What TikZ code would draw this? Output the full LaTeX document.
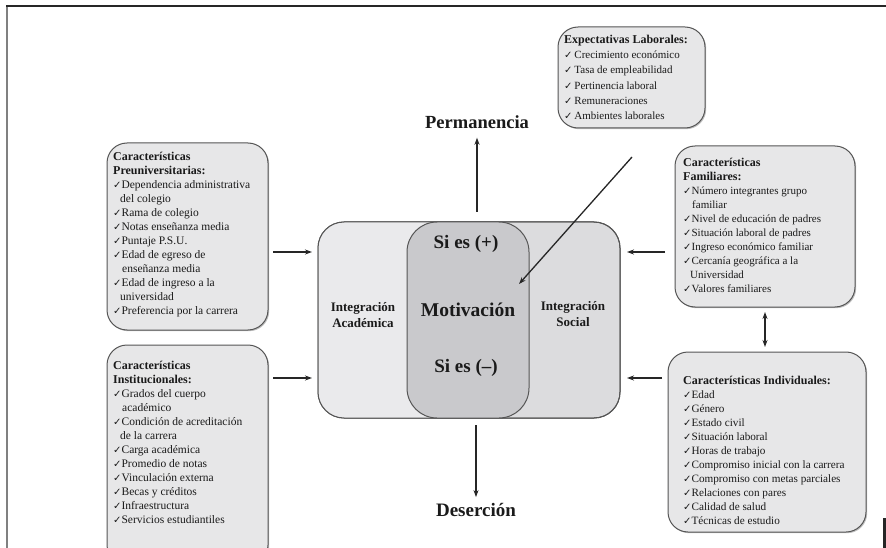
\documentclass[tikz,border=0pt]{standalone}
\usepackage{fontspec}
\setmainfont{Liberation Serif}
\newfontfamily\chk{DejaVu Sans}
\usetikzlibrary{arrows.meta,shadows,calc}
\definecolor{boxfill}{HTML}{E7E7E8}
\definecolor{boxline}{HTML}{555555}
\definecolor{leftfill}{HTML}{EAEAEC}
\definecolor{rightfill}{HTML}{DCDCDE}
\definecolor{motfill}{HTML}{C9C9CC}
\definecolor{txtcol}{HTML}{1A1A1A}
\newcommand\myck{{\chk\fontsize{10}{10}\selectfont ✓}}
\newcommand\ttl[1]{{\fontsize{12}{14}\selectfont\textbf{#1}}}
\begin{document}
\begin{tikzpicture}[x=1pt,y=-1pt,
  infobox/.style={draw=boxline, fill=boxfill, rounded corners=20pt, line width=1pt,
    drop shadow={shadow xshift=1.2pt, shadow yshift=-1.2pt, opacity=0.5},
    inner sep=0, outer sep=0},
  infotxt/.style={anchor=north west, align=left, inner sep=0, text=txtcol,
    font=\fontsize{11.5}{14}\selectfont},
  arr/.style={-{Stealth[length=7pt,width=5pt]}, line width=1.3pt, draw=black!85},
  darr/.style={{Stealth[length=7pt,width=5pt]}-{Stealth[length=7pt,width=5pt]}, line width=1.3pt, draw=black!85},
  bigtxt/.style={font=\bfseries\fontsize{18.5}{20}\selectfont, text=txtcol, inner sep=1pt},
  midtxt/.style={font=\bfseries\fontsize{13}{16}\selectfont, text=txtcol, align=center, inner sep=1pt}]
\useasboundingbox (0,0) rectangle (886,548);
\clip (0,0) rectangle (886,548);

% frame
\draw[line width=1.6pt, black!50] (7,548) -- (7,6);
\draw[line width=1.3pt, black!85] (6,6) -- (886,6);
\fill[black!85] (882.5,518) rectangle (886,548);

% side boxes
\node[infobox, minimum width=161pt, minimum height=187pt] (preuni) at (187.5,236.5) {};
\node[infobox, minimum width=161pt, minimum height=220pt] (instit) at (187.5,455) {};
\node[infobox, minimum width=147pt, minimum height=101pt] (expect) at (631.5,77.5) {};
\node[infobox, minimum width=180pt, minimum height=161pt] (famil) at (765,226.5) {};
\node[infobox, minimum width=198pt, minimum height=180pt] (indiv) at (767,442) {};

\node[infotxt] (preunitxt) at (113,152) {\ttl{Características}\\
\ttl{Preuniversitarias:}\\
\myck Dependencia administrativa\\
\hspace*{7pt}del colegio\\
\myck Rama de colegio\\
\myck Notas enseñanza media\\
\myck Puntaje P.S.U.\\
\myck Edad de egreso de\\
\hspace*{9pt}enseñanza media\\
\myck Edad de ingreso a la\\
\hspace*{7pt}universidad\\
\myck Preferencia por la carrera};

\node[infotxt] (instittxt) at (113,361) {\ttl{Características}\\
\ttl{Institucionales:}\\
\myck Grados del cuerpo\\
\hspace*{9pt}académico\\
\myck Condición de acreditación\\
\hspace*{7pt}de la carrera\\
\myck Carga académica\\
\myck Promedio de notas\\
\myck Vinculación externa\\
\myck Becas y créditos\\
\myck Infraestructura\\
\myck Servicios estudiantiles};

\node[infotxt, font=\fontsize{11}{15.2}\selectfont] (expecttxt) at (564,35) {\ttl{Expectativas Laborales:}\\
\myck\,Crecimiento económico\\
\myck\,Tasa de empleabilidad\\
\myck\,Pertinencia laboral\\
\myck\,Remuneraciones\\
\myck\,Ambientes laborales};

\node[infotxt, font=\fontsize{11}{14}\selectfont] (familtxt) at (683,158) {\ttl{Características}\\
\ttl{Familiares:}\\
\myck Número integrantes grupo\\
\hspace*{9pt}familiar\\
\myck Nivel de educación de padres\\
\myck Situación laboral de padres\\
\myck Ingreso económico familiar\\
\myck Cercanía geográfica a la\\
\hspace*{7pt}Universidad\\
\myck Valores familiares};

\node[infotxt, font=\fontsize{11.2}{14}\selectfont] (indivtxt) at (683,376) {\ttl{Características Individuales:}\\
\myck Edad\\
\myck Género\\
\myck Estado civil\\
\myck Situación laboral\\
\myck Horas de trabajo\\
\myck Compromiso inicial con la carrera\\
\myck Compromiso con metas parciales\\
\myck Relaciones con pares\\
\myck Calidad de salud\\
\myck Técnicas de estudio};

% central diagram
\node[draw=boxline, fill=rightfill, rounded corners=26pt, line width=1pt,
  minimum width=302pt, minimum height=196pt, inner sep=0, outer sep=0] (big) at (469,320) {};
\begin{scope}
  \clip[rounded corners=26pt] (318,222) rectangle (620,418);
  \fill[leftfill] (318,222) rectangle (469,418);
\end{scope}
\draw[boxline, line width=1pt, rounded corners=26pt] (318,222) rectangle (620,418);
\node[draw=boxline, fill=motfill, rounded corners=30pt, line width=1pt,
  minimum width=122pt, minimum height=196pt, inner sep=0, outer sep=0] (motiv) at (468,320) {};

\node[midtxt] (acad) at (363,315) {Integración\\Académica};
\node[midtxt] (soc) at (573,314) {Integración\\Social};
\node[bigtxt, font=\bfseries\fontsize{19.5}{20}\selectfont] (mot) at (468,310) {Motivación};
\node[bigtxt, font=\bfseries\fontsize{19}{20}\selectfont] (plus) at (466,244) {Si es (+)};
\node[bigtxt, font=\bfseries\fontsize{19}{20}\selectfont] (minus) at (466,368) {Si es (--)};

\node[bigtxt] (perm) at (477,122) {Permanencia};
\node[bigtxt, font=\bfseries\fontsize{19}{20}\selectfont] (deser) at (476,510) {Deserción};

% connectors
\draw[arr, shorten <=10pt, shorten >=8pt] (perm.south |- big.north) -- (perm.south);
\draw[arr, shorten <=7pt, shorten >=5pt] (deser.north |- big.south) -- (deser.north);

\coordinate (e0) at (632,157);
\coordinate (e1) at (519,284);
\draw[arr] (e0) -- (e1);

\draw[arr, shorten <=5pt, shorten >=6pt] (preuni.east |- 0,252) -- (big.west |- 0,252);
\draw[arr, shorten <=5pt, shorten >=6pt] (instit.east |- 0,378) -- (big.west |- 0,378);
\draw[arr, shorten <=10pt, shorten >=7pt] (famil.west |- 0,252) -- (big.east |- 0,252);
\draw[arr, shorten <=6pt, shorten >=7pt] (indiv.west |- 0,378) -- (big.east |- 0,378);
\draw[darr, shorten <=5pt, shorten >=5pt] (famil.south) -- (famil.south |- indiv.north);
\end{tikzpicture}
\end{document}
